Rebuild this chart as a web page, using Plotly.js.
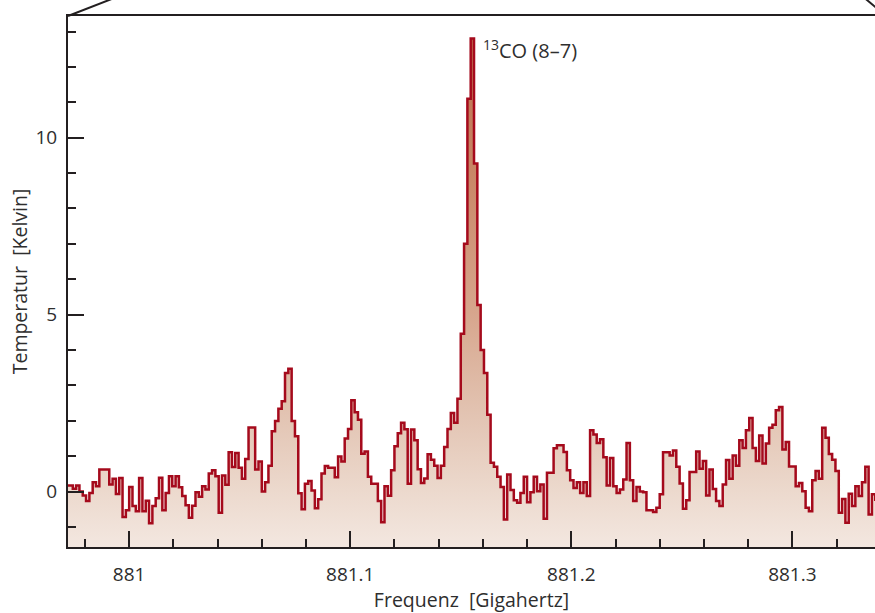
<!DOCTYPE html>
<html><head><meta charset="utf-8">
<script src="https://cdn.plot.ly/plotly-3.0.1.min.js"></script>
<style>html,body{margin:0;padding:0;background:#fff}#chart{width:875px;height:613px}</style>
</head><body><div id="chart"></div>
<script>
// Spectrum channels: first channel left edge and channel width (GHz)
const channelStartGHz = 880.9715;
const channelWidthGHz = 0.0015;
// Antenna temperature per channel (Kelvin)
const temperatureK = [
  0.17, 0.17, 0.08, 0.17, 0.00, -0.11, -0.27, -0.04, 0.26, 0.15,
  0.62, 0.62, 0.62, 0.20, 0.36, -0.07, 0.38, -0.72, -0.53, 0.13,
  -0.41, -0.56, 0.38, -0.56, -0.26, -0.90, -0.41, -0.19, 0.39, -0.53,
  -0.04, 0.43, 0.15, 0.43, 0.12, -0.13, -0.39, -0.74, -0.40, -0.02,
  -0.15, 0.15, 0.06, 0.51, 0.60, 0.43, -0.60, 0.45, 0.19, 1.11,
  0.69, 1.09, 0.67, 0.36, 0.92, 1.81, 1.81, 0.62, 0.85, 0.00,
  0.26, 0.73, 1.70, 1.99, 2.34, 2.55, 3.35, 3.47, 1.99, 1.56,
  -0.05, -0.50, 0.22, 0.30, 0.03, -0.47, -0.22, 0.51, 0.72, 0.67,
  0.67, 0.40, 0.99, 0.85, 1.50, 1.77, 2.58, 2.24, 2.03, 1.07,
  1.13, 0.42, 0.22, 0.22, -0.27, -0.87, 0.15, -0.12, 0.60, 1.28,
  1.65, 1.94, 1.76, 0.22, 1.75, 1.45, 0.63, 0.24, 0.37, 1.05,
  0.90, 0.73, 0.38, 0.73, 1.26, 1.77, 2.22,
  1.94, 2.62, 4.46, 7.00, 11.10, 12.80, 9.27, 5.27, 4.00, 3.35,
  2.17, 0.81, 0.70, 0.42, 0.13, -0.79, 0.48, 0.04, -0.25, -0.32,
  -0.04, 0.42, -0.30, -0.02, 0.42, 0.01, 0.20, -0.77, 0.53, 0.53,
  1.22, 1.31, 1.31, 1.12, 0.60, 0.32, 0.10, 0.26, -0.04, 0.26,
  -0.13, 1.73, 1.61, 1.37, 1.48, 0.97, 0.17, 0.95, 0.15, -0.04,
  0.06, 0.34, 1.37, 0.32, -0.27, 0.13,
  0.00, -0.02, -0.53, -0.53, -0.58, -0.46, -0.08, 1.11, 1.11, 1.02,
  1.16, 0.70, 0.23, -0.49, -0.25, 0.55, 0.55, 1.13, 0.64, 0.86,
  -0.11, 0.62, 0.07, -0.27, -0.41, 0.20, 0.89, 0.36, 1.02, 0.73,
  1.45, 1.23, 1.73, 2.08, 1.23, 0.86, 1.58, 0.79, 1.36, 1.80,
  1.89, 2.30, 2.39, 1.19, 1.40, 0.71, 0.71, 0.15, 0.24, 0.01,
  -0.46, -0.56, 0.32, 0.58, 0.36, 1.80, 1.52, 1.06, 0.90, 0.58,
  -0.60, -0.21, -0.88, -0.06, -0.41, 0.15, -0.13, 0.26, 0.70, -0.65,
  -0.08, -0.27
];
const xTitle = "Frequenz\u00a0 [Gigahertz]";
const yTitle = "Temperatur\u00a0 [Kelvin]";
const lineLabel = "<sup>13</sup>CO (8–7)";

const xRange = [880.97233, 881.33739];
const yRange = [-1.568, 13.438];

const axisColor = '#231f20';
const textColor = '#2e2e2e';
const fontFamily = 'Open Sans, sans-serif';

// find the brightest channel for the label
let peakIdx = 0;
temperatureK.forEach((v, i) => { if (v > temperatureK[peakIdx]) peakIdx = i; });
const peakRightEdge = channelStartGHz + channelWidthGHz * (peakIdx + 1);

const baseline = {
  x: xRange, y: [yRange[0], yRange[0]],
  mode: 'lines', line: {width: 0, color: 'rgba(0,0,0,0)'},
  hoverinfo: 'skip', showlegend: false
};
const spectrum = {
  x0: channelStartGHz, dx: channelWidthGHz, y: temperatureK,
  type: 'scatter', mode: 'lines',
  line: {shape: 'hv', color: '#a50a1c', width: 2.5},
  fill: 'tonexty',
  fillgradient: {
    type: 'vertical',
    start: yRange[0], stop: yRange[1],
    colorscale: [
      [0, '#f3e7e0'], [0.106, '#ecd9cd'], [0.24, '#e3c5b4'],
      [0.44, '#d7a68d'], [0.70, '#c98767'], [1, '#bb6a48']
    ]
  },
  showlegend: false
};

const axisCommon = {
  showgrid: false, zeroline: false, showline: true,
  linecolor: axisColor, linewidth: 2,
  ticks: 'inside', ticklen: 16, tickwidth: 2, tickcolor: axisColor,
  tickfont: {family: fontFamily, size: 19, color: textColor},
  fixedrange: true
};

const layout = {
  width: 875, height: 613,
  margin: {l: 67.5, r: 0, t: 16.3, b: 65.5, pad: 0},
  paper_bgcolor: '#ffffff', plot_bgcolor: '#ffffff',
  showlegend: false,
  font: {family: fontFamily, size: 19, color: textColor},
  xaxis: Object.assign({}, axisCommon, {
    range: xRange, mirror: true,
    tickmode: 'linear', tick0: 881, dtick: 0.1,
    ticklabelstandoff: 9,
    minor: {tick0: 881, dtick: 0.02, ticks: 'inside', ticklen: 8, tickwidth: 2, tickcolor: axisColor, showgrid: false},
    title: {text: xTitle, font: {family: fontFamily, size: 19.5, color: textColor}, standoff: 9}
  }),
  yaxis: Object.assign({}, axisCommon, {
    range: yRange,
    tickmode: 'linear', tick0: 0, dtick: 5,
    ticklabelstandoff: 5,
    minor: {tick0: 0, dtick: 1, ticks: 'inside', ticklen: 8, tickwidth: 2, tickcolor: axisColor, showgrid: false},
    title: {text: yTitle, font: {family: fontFamily, size: 19.5, color: textColor}, standoff: 3}
  }),
  shapes: [
    {type: 'line', xref: 'paper', yref: 'paper', x0: 0, y0: 1, x1: 0.0551, y1: 1.0326,
     line: {color: axisColor, width: 2}},
    {type: 'line', xref: 'paper', yref: 'paper', x0: 1.0136, y0: 1, x1: 0.9881, y1: 1.0326,
     line: {color: axisColor, width: 2}}
  ],
  annotations: [{
    x: peakRightEdge, y: temperatureK[peakIdx], xref: 'x', yref: 'y',
    text: lineLabel, showarrow: false, xanchor: 'left', yanchor: 'middle',
    xshift: 7, yshift: -11,
    font: {family: fontFamily, size: 20, color: textColor}
  }]
};

Plotly.newPlot('chart', [baseline, spectrum], layout, {staticPlot: true, displayModeBar: false});
</script>
</body></html>
